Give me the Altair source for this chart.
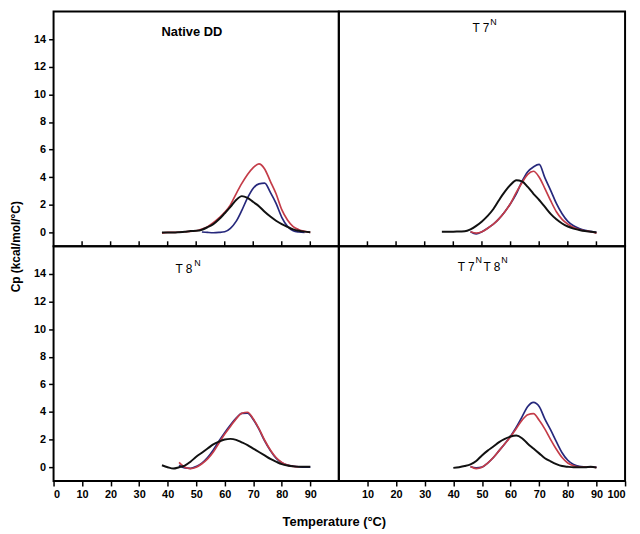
import altair as alt
import pandas as pd

# ---------------- data ----------------
TEMP = list(range(36, 91, 2))  # 36, 38, ..., 90 (°C)

NATIVE_BLACK = [None, 0.0, 0.0, 0.0, 0.02, 0.05, 0.1, 0.12, 0.2, 0.38, 0.6, 0.95, 1.39, 1.85,
                2.35, 2.63, 2.5, 2.2, 1.9, 1.5, 1.15, 0.85, 0.6, 0.4, 0.22, 0.12, 0.06, 0.02]
NATIVE_RED = [None, -0.05, 0.0, 0.0, 0.02, 0.05, 0.08, 0.12, 0.25, 0.42, 0.7, 1.05, 1.45, 2.0,
              2.8, 3.55, 4.2, 4.7, 4.97, 4.6, 3.7, 2.8, 1.65, 0.9, 0.42, 0.2, 0.08, 0.0]
NATIVE_BLUE = [None, None, None, None, None, None, None, None, 0.03, 0.0, -0.02, 0.0, 0.05, 0.3,
               0.8, 1.6, 2.5, 3.2, 3.52, 3.57, 2.9, 2.1, 1.1, 0.45, 0.12, 0.03, 0.0, None]

T7_BLACK = [0.05, 0.05, 0.05, 0.07, 0.08, 0.22, 0.48, 0.8, 1.2, 1.7, 2.35, 2.95, 3.45, 3.78,
            3.7, 3.3, 2.8, 2.35, 1.85, 1.35, 0.95, 0.65, 0.43, 0.28, 0.18, 0.1, 0.05, 0.0]
T7_RED = [None, None, None, None, None, 0.05, -0.05, 0.05, 0.3, 0.6, 1.0, 1.5, 2.1, 2.9,
          3.6, 4.2, 4.43, 4.0, 3.18, 2.3, 1.5, 0.95, 0.6, 0.35, 0.2, 0.12, 0.05, -0.05]
T7_BLUE = [None, None, None, None, None, 0.05, -0.1, 0.05, 0.3, 0.6, 1.0, 1.5, 2.1, 2.8,
           3.7, 4.4, 4.75, 4.93, 3.95, 3.05, 2.1, 1.35, 0.8, 0.48, 0.28, 0.15, 0.08, 0.0]

T8_BLACK = [None, 0.14, 0.0, -0.1, 0.0, 0.12, 0.4, 0.75, 1.05, 1.35, 1.65, 1.85, 2.0, 2.05,
            1.98, 1.8, 1.6, 1.35, 1.1, 0.85, 0.6, 0.4, 0.22, 0.12, 0.06, 0.03, 0.03, 0.03]
T8_RED = [None, None, None, None, 0.35, 0.0, -0.1, 0.0, 0.25, 0.6, 1.1, 1.75, 2.4, 2.95,
          3.5, 3.9, 3.98, 3.5, 2.8, 1.95, 1.25, 0.7, 0.35, 0.15, 0.06, 0.02, None, None]
T8_BLUE = [None, None, None, None, 0.14, -0.05, -0.08, 0.05, 0.3, 0.7, 1.25, 1.9, 2.5, 3.05,
           3.55, 3.9, 3.92, 3.45, 2.75, 1.9, 1.2, 0.65, 0.32, 0.15, 0.08, 0.03, 0.0, 0.0]

T7T8_BLACK = [None, None, -0.05, 0.0, 0.08, 0.2, 0.45, 0.85, 1.2, 1.5, 1.82, 2.05, 2.22, 2.29,
              2.1, 1.7, 1.35, 1.0, 0.65, 0.42, 0.22, 0.08, 0.03, 0.0, 0.0, 0.0, 0.03, -0.03]
T7T8_RED = [None, None, None, None, None, 0.05, -0.1, 0.0, 0.3, 0.7, 1.2, 1.7, 2.2, 2.8,
            3.4, 3.8, 3.88, 3.4, 2.76, 2.0, 1.3, 0.7, 0.3, 0.1, 0.02, 0.0, 0.03, -0.03]
T7T8_BLUE = [None, None, None, None, None, 0.03, -0.05, 0.0, 0.3, 0.7, 1.2, 1.7, 2.25, 2.9,
             3.65, 4.4, 4.7, 4.4, 3.48, 2.7, 1.85, 1.05, 0.5, 0.2, 0.06, 0.02, 0.0, 0.0]

Y_TICKS = [0, 2, 4, 6, 8, 10, 12, 14]
X_TICKS_LEFT = [0, 10, 20, 30, 40, 50, 60, 70, 80, 90]
X_TICKS_RIGHT = [10, 20, 30, 40, 50, 60, 70, 80, 90, 100]
INNER_TICKS = [10, 20, 30, 40, 50, 60, 70, 80, 90]

SERIES = ["blue", "red", "black"]
COLORS = {"black": "#111111", "red": "#c43c48", "blue": "#26287c"}

# ---------------- layout ----------------
W_L, W_R, H = 288, 289, 237
FONT = "Liberation Sans"


def panel_df(black, red, blue):
    rows = []
    for name, vals in (("blue", blue), ("red", red), ("black", black)):
        for t, v in zip(TEMP, vals):
            if v is not None:
                rows.append({"T": t, "Cp": v, "series": name})
    return pd.DataFrame(rows)


def text_layer(txt, x, y, size, weight="normal", align="left"):
    return alt.Chart(pd.DataFrame({"k": [0]})).mark_text(
        text=txt, fontSize=size, font=FONT, fontWeight=weight, align=align,
        baseline="alphabetic", color="black"
    ).encode(x=alt.value(x), y=alt.value(y))


def make_panel(black, red, blue, left, bottom, labels, width):
    df = panel_df(black, red, blue)
    xscale = alt.Scale(domain=[0, 100], nice=False, zero=False)
    yscale = alt.Scale(domain=[-1, 16], nice=False, zero=False)

    if bottom:
        x_axis = alt.Axis(
            values=X_TICKS_LEFT if left else X_TICKS_RIGHT, format="d", domain=False, grid=False,
            tickSize=5, tickWidth=1.5, tickColor="black", labelPadding=3,
            labelFont=FONT, labelFontSize=11, labelFontWeight="bold", labelColor="black",
            title="Temperature (°C)" if left else "",
            titleX=283, titleY=41, titleAlign="center", titleBaseline="middle",
            titleFont=FONT, titleFontSize=13, titleFontWeight="bold", titleColor="black",
        )
    else:
        x_axis = None

    if left:
        y_axis = alt.Axis(
            values=Y_TICKS, format="d", domain=False, grid=False,
            tickSize=5, tickWidth=1.5, tickColor="black", labelPadding=3,
            labelFont=FONT, labelFontSize=11, labelFontWeight="bold", labelColor="black",
            title="Cp (kcal/mol/°C)" if bottom else "",
            titleX=-38, titleY=0, titleAlign="center", titleBaseline="middle", titleAngle=270,
            titleFont=FONT, titleFontSize=12, titleFontWeight="bold", titleColor="black",
        )
    else:
        y_axis = None

    layers = []
    for s in SERIES:
        layers.append(
            alt.Chart(df[df["series"] == s]).mark_line(
                color=COLORS[s], strokeWidth=2.0 if s == "black" else 1.7,
                interpolate="monotone",
            ).encode(
                x=alt.X("T:Q", scale=xscale, axis=x_axis),
                y=alt.Y("Cp:Q", scale=yscale, axis=y_axis),
            )
        )

    if not bottom:
        tick_df = pd.DataFrame({"t": INNER_TICKS})
        layers.append(
            alt.Chart(tick_df).mark_rule(color="black", strokeWidth=1.5).encode(
                x=alt.X("t:Q", scale=xscale, axis=x_axis),
                y=alt.value(H), y2=alt.value(H - 5),
            )
        )

    for (txt, x, y, size, weight) in labels:
        layers.append(text_layer(txt, x, y, size, weight))

    return alt.layer(*layers).properties(width=width, height=H)


panel_a = make_panel(NATIVE_BLACK, NATIVE_RED, NATIVE_BLUE, True, False,
                     [("Native DD", 109, 25, 13, "bold")], W_L)
panel_b = make_panel(T7_BLACK, T7_RED, T7_BLUE, False, False,
                     [("T 7", 135, 21, 12, "normal"), ("N", 153, 14, 9, "normal")], W_R)
panel_c = make_panel(T8_BLACK, T8_RED, T8_BLUE, True, True,
                     [("T 8", 123, 27, 12, "normal"), ("N", 142, 20, 9, "normal")], W_L)
panel_d = make_panel(T7T8_BLACK, T7T8_RED, T7T8_BLUE, False, True,
                     [("T 7", 120, 25, 12, "normal"), ("N", 138, 17, 9, "normal"),
                      ("T 8", 146, 25, 12, "normal"), ("N", 164, 17, 9, "normal")], W_R)

chart = alt.concat(
    panel_a, panel_b, panel_c, panel_d, columns=2, spacing=0, bounds="flush"
).properties(
    padding={"left": 0, "top": 0, "right": 5, "bottom": 5},
    background="white",
).configure_view(
    stroke="black", strokeWidth=2
)

chart.save("out.html", embed_options={"renderer": "svg", "actions": False})
